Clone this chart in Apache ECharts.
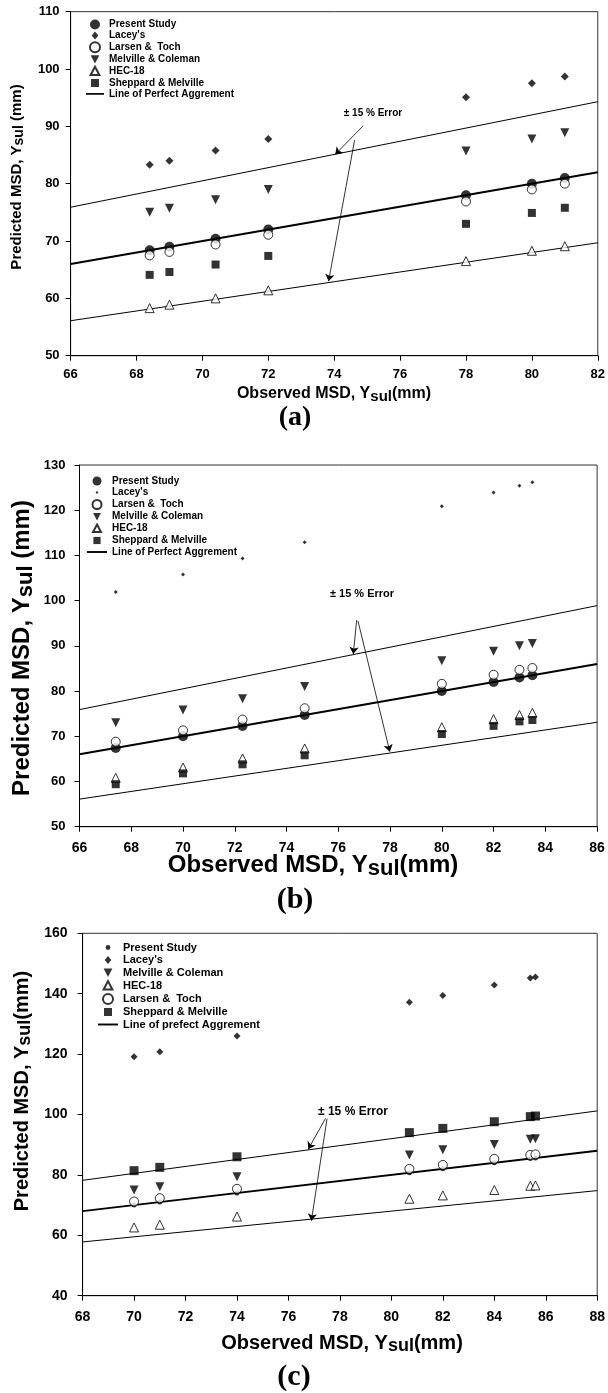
<!DOCTYPE html>
<html><head><meta charset="utf-8">
<script src="https://cdn.jsdelivr.net/npm/echarts@6/dist/echarts.min.js"></script>
<style>html,body{margin:0;padding:0;background:#fff}#c{width:608px;height:1393px}</style>
</head><body><div id="c"></div>
<script>
// ---------- Panel (a) ----------
const xA        = [68.4, 69, 70.4, 72, 78, 80, 81];
const presentA  = [68.4, 69.0, 70.4, 72.0, 78.0, 80.0, 81.0];
const laceyA    = [83.3, 84.0, 85.8, 87.8, 95.1, 97.5, 98.7];
const larsenA   = [67.5, 68.1, 69.4, 71.1, 76.9, 79.0, 80.0];
const melvilleA = [75.0, 75.7, 77.2, 79.0, 85.7, 87.8, 88.9];
const hecA      = [58.3, 58.9, 60.0, 61.4, 66.5, 68.3, 69.1];
const sheppardA = [64.1, 64.6, 65.9, 67.4, 73.0, 74.9, 75.8];
const xRangeA = [66, 82], yRangeA = [50, 110];
const arrowsA = [[[74.88, 90.1], [74.03, 85.1]], [[74.62, 87.6], [73.83, 63.0]]];

// ---------- Panel (b) ----------
const xB        = [67.4, 70, 72.3, 74.7, 80, 82, 83, 83.5];
const presentB  = [67.4, 70.0, 72.3, 74.7, 80.0, 82.0, 83.0, 83.5];
const laceyB    = [101.9, 105.8, 109.3, 112.9, 120.9, 123.9, 125.4, 126.2];
const larsenB   = [68.8, 71.3, 73.7, 76.2, 81.6, 83.6, 84.7, 85.1];
const melvilleB = [73.0, 75.8, 78.3, 81.0, 86.7, 88.8, 90.0, 90.5];
const hecB      = [60.8, 63.1, 65.1, 67.3, 72.0, 73.8, 74.7, 75.2];
const sheppardB = [59.4, 61.8, 63.8, 65.8, 70.5, 72.3, 73.3, 73.6];
const xRangeB = [66, 86], yRangeB = [50, 130];
const arrowsB = [[[76.71, 95.7], [76.58, 88.2]], [[76.76, 95.5], [77.99, 66.6]]];

// ---------- Panel (c) ----------
const xC        = [70, 71, 74, 80.7, 82, 84, 85.4, 85.6];
const presentC  = [70.0, 71.0, 74.0, 80.7, 82.0, 84.0, 85.4, 85.6];
const laceyC    = [119.1, 120.8, 126.0, 137.2, 139.4, 142.9, 145.2, 145.5];
const melvilleC = [75.0, 76.1, 79.4, 86.6, 88.3, 90.1, 91.8, 92.0];
const hecC      = [62.6, 63.5, 66.2, 72.1, 73.2, 75.0, 76.4, 76.5];
const larsenC   = [71.2, 72.3, 75.4, 82.0, 83.3, 85.3, 86.6, 86.8];
const sheppardC = [81.4, 82.5, 86.0, 94.0, 95.4, 97.6, 99.3, 99.5];
const xRangeC = [68, 88], yRangeC = [40, 160];
const arrowsC = [[[77.44, 98.7], [76.77, 88.5]], [[77.5, 98.6], [76.89, 64.8]]];

const errorFactors = [1.15, 0.85];

const FONT = '"Liberation Sans", Arial, Helvetica, sans-serif';
const SERIF = '"Liberation Serif", "Times New Roman", serif';

const grids = [
  {left: 70.6, top: 11.7, width: 527.4, height: 344},
  {left: 79.5, top: 465, width: 517.6, height: 361.7},
  {left: 82.6, top: 933.3, width: 519.2, height: 362.4}
].map(g => Object.assign({show: true, borderColor: '#333', borderWidth: 1, containLabel: false}, g));

function axis(g, r, step, fs, margin) {
  return {type: 'value', gridIndex: g, min: r[0], max: r[1], interval: step,
    axisLine: {show: true, onZero: false, lineStyle: {color: '#000', width: 1}},
    axisTick: {show: true, length: 5, lineStyle: {color: '#000'}},
    axisLabel: {color: '#000', fontFamily: FONT, fontWeight: 'bold', fontSize: fs, margin: margin,
      showMinLabel: true, showMaxLabel: true, hideOverlap: false},
    splitLine: {show: false}};
}

const series = [];
function sc(p, g, name, xs, ys, symbol, size, filled, rot) {
  series.push({type: 'scatter', name: p + ':' + name, xAxisIndex: g, yAxisIndex: g,
    data: xs.map((x, i) => [x, ys[i]]), symbol: symbol, symbolSize: size, symbolRotate: rot || 0,
    itemStyle: filled ? {color: '#000', borderWidth: 0} : {color: '#fff', borderColor: '#000', borderWidth: 1},
    z: 4, silent: true});
}
function lines(p, g, r, name, w) {
  series.push({type: 'line', name: p + ':' + name, xAxisIndex: g, yAxisIndex: g,
    data: r.map(x => [x, x]), symbol: 'none', showSymbol: false, color: '#000',
    itemStyle: {color: '#000'}, lineStyle: {color: '#000', width: w}, z: 2, silent: true});
  errorFactors.forEach(f => series.push({type: 'line', xAxisIndex: g, yAxisIndex: g,
    data: r.map(x => [x, x * f]), symbol: 'none', showSymbol: false, color: '#000',
    lineStyle: {color: '#000', width: 1}, z: 2, silent: true}));
}
function arrows(g, arr) {
  series.push({type: 'lines', coordinateSystem: 'cartesian2d', xAxisIndex: g, yAxisIndex: g,
    data: arr.map(a => ({coords: a})), symbol: ['none', 'arrow'], symbolSize: [0, 7],
    lineStyle: {color: '#000', width: 0.8, opacity: 1, curveness: 0}, z: 3, silent: true});
}

// Panel a
lines('a', 0, xRangeA, 'Line of Perfect Aggrement', 2);
sc('a', 0, 'Present Study', xA, presentA, 'circle', 10, true);
sc('a', 0, "Lacey's", xA, laceyA, 'diamond', 8, true);
sc('a', 0, 'Larsen &  Toch', xA, larsenA, 'circle', 9, false);
sc('a', 0, 'Melville & Coleman', xA, melvilleA, 'triangle', 9, true, 180);
sc('a', 0, 'HEC-18', xA, hecA, 'triangle', 9, false);
sc('a', 0, 'Sheppard & Melville', xA, sheppardA, 'rect', 8, true);
arrows(0, arrowsA);

// Panel b
lines('b', 1, xRangeB, 'Line of Perfect Aggrement', 2);
sc('b', 1, 'Present Study', xB, presentB, 'circle', 10, true);
sc('b', 1, "Lacey's", xB, laceyB, 'diamond', 4, true);
sc('b', 1, 'Larsen &  Toch', xB, larsenB, 'circle', 9, false);
sc('b', 1, 'Melville & Coleman', xB, melvilleB, 'triangle', 9, true, 180);
sc('b', 1, 'HEC-18', xB, hecB, 'triangle', 9, false);
sc('b', 1, 'Sheppard & Melville', xB, sheppardB, 'rect', 8, true);
arrows(1, arrowsB);

// Panel c
lines('c', 2, xRangeC, 'Line of prefect Aggrement', 1.8);
sc('c', 2, 'Present Study', xC, presentC, 'circle', 5, true);
sc('c', 2, "Lacey's", xC, laceyC, 'diamond', 7, true);
sc('c', 2, 'Melville & Coleman', xC, melvilleC, 'triangle', 9, true, 180);
sc('c', 2, 'HEC-18', xC, hecC, 'triangle', 9, false);
sc('c', 2, 'Larsen &  Toch', xC, larsenC, 'circle', 9, false);
sc('c', 2, 'Sheppard & Melville', xC, sheppardC, 'rect', 9, true);
arrows(2, arrowsC);

// legend icons (10x10 box, kept square by the invisible moves)
const BOX = 'path://M0,0 M10,10 ';
const ICON = {
  circle: 'circle',
  dot: BOX + 'M5,2.6 A2.4,2.4 0 1 1 4.99,2.6 Z',
  diamond: BOX + 'M5,1 L8.3,5 L5,9 L1.7,5 Z',
  smallDiamond: BOX + 'M5,3.2 L6.6,5 L5,6.8 L3.4,5 Z',
  down: BOX + 'M0.6,1 L9.4,1 L5,9.4 Z',
  up: BOX + 'M5,0.6 L9.4,9 L0.6,9 Z',
  square: BOX + 'M1,1 L9,1 L9,9 L1,9 Z',
  line: 'path://M0,0 L20,0 L20,1.9 L0,1.9 Z'
};
const legNamesA = ['Present Study', "Lacey's", 'Larsen &  Toch', 'Melville & Coleman', 'HEC-18', 'Sheppard & Melville', 'Line of Perfect Aggrement'];
const legIconsA = ['circle', 'diamond', 'circle', 'down', 'up', 'square', 'line'];
const legIconsB = ['circle', 'smallDiamond', 'circle', 'down', 'up', 'square', 'line'];
const legNamesC = ['Present Study', "Lacey's", 'Melville & Coleman', 'HEC-18', 'Larsen &  Toch', 'Sheppard & Melville', 'Line of prefect Aggrement'];
const legIconsC = ['dot', 'diamond', 'down', 'up', 'circle', 'square', 'line'];

function legend(p, names, icons, left, top, fs, lh, gap, iw, ih) {
  return {orient: 'vertical', left: left, top: top, padding: 0, itemGap: gap, itemWidth: iw, itemHeight: ih,
    selectedMode: false, symbolKeepAspect: true, symbolRotate: 0,
    data: names.map((n, i) => ({name: p + ':' + n, icon: ICON[icons[i]], symbolRotate: 0})),
    formatter: n => n.slice(2),
    textStyle: {color: '#000', fontFamily: FONT, fontWeight: 'bold', fontSize: fs, lineHeight: lh}};
}

// axis title with subscript; (x,y) = centre of the main (non-subscript) text line
function title(text, x, y, fs, rot) {
  const L = Math.round(fs * 1.15), P = Math.round(fs * 0.3);
  return {type: 'text', x: rot ? x + P / 2 : x, y: rot ? y : y + P / 2,
    rotation: rot ? Math.PI / 2 : 0, z: 10, silent: true,
    style: {text: text, align: 'center', verticalAlign: 'middle', fill: '#000',
      rich: {
        m: {fontFamily: FONT, fontWeight: 'bold', fontSize: fs, lineHeight: L, padding: [0, 0, P, 0], fill: '#000'},
        s: {fontFamily: FONT, fontWeight: 'bold', fontSize: Math.round(fs * 0.92), lineHeight: L, fill: '#000'}
      }}};
}
function plain(text, x, y, fs, family) {
  return {type: 'text', x: x, y: y, z: 10, silent: true,
    style: {text: text, align: 'center', verticalAlign: 'middle', fill: '#000',
      font: 'bold ' + fs + 'px ' + family}};
}

const option = {
  animation: false,
  backgroundColor: '#fff',
  grid: grids,
  xAxis: [axis(0, xRangeA, 2, 13, 12), axis(1, xRangeB, 2, 14, 14), axis(2, xRangeC, 2, 14, 14)],
  yAxis: [axis(0, yRangeA, 10, 13, 11), axis(1, yRangeB, 10, 13, 14), axis(2, yRangeC, 20, 14, 15)],
  legend: [
    legend('a', legNamesA, legIconsA, 86, 19.5, 10, 10, 0.9, 18, 10),
    legend('b', legNamesA, legIconsB, 87, 476, 10, 10, 1.5, 20, 9),
    legend('c', legNamesC, legIconsC, 98, 942, 11, 11, 1.5, 20, 10)
  ],
  series: series,
  graphic: [
    title('{m|Predicted MSD, Y}{s|sul}{m| (mm)}', 17, 177, 15, true),
    title('{m|Observed MSD, Y}{s|sul}{m|(mm)}', 334, 394, 16, false),
    plain('(a)', 295, 418, 28, SERIF),
    plain('\u00b1 15 % Error', 373, 113, 10, FONT),

    title('{m|Predicted MSD, Y}{s|sul}{m| (mm)}', 22.5, 648, 24, true),
    title('{m|Observed MSD, Y}{s|sul}{m|(mm)}', 313, 865, 24, false),
    plain('(b)', 295, 900, 30, SERIF),
    plain('\u00b1 15 % Error', 362, 594, 11, FONT),

    title('{m|Predicted MSD, Y}{s|sul}{m|(mm)}', 22, 1091, 20, true),
    title('{m|Observed MSD, Y}{s|sul}{m|(mm)}', 342, 1343, 20, false),
    plain('(c)', 294, 1377, 30, SERIF),
    plain('\u00b1 15 % Error', 353, 1112, 12, FONT)
  ]
};

const chart = echarts.init(document.getElementById('c'), null, {renderer: 'canvas'});
chart.setOption(option);
</script></body></html>
